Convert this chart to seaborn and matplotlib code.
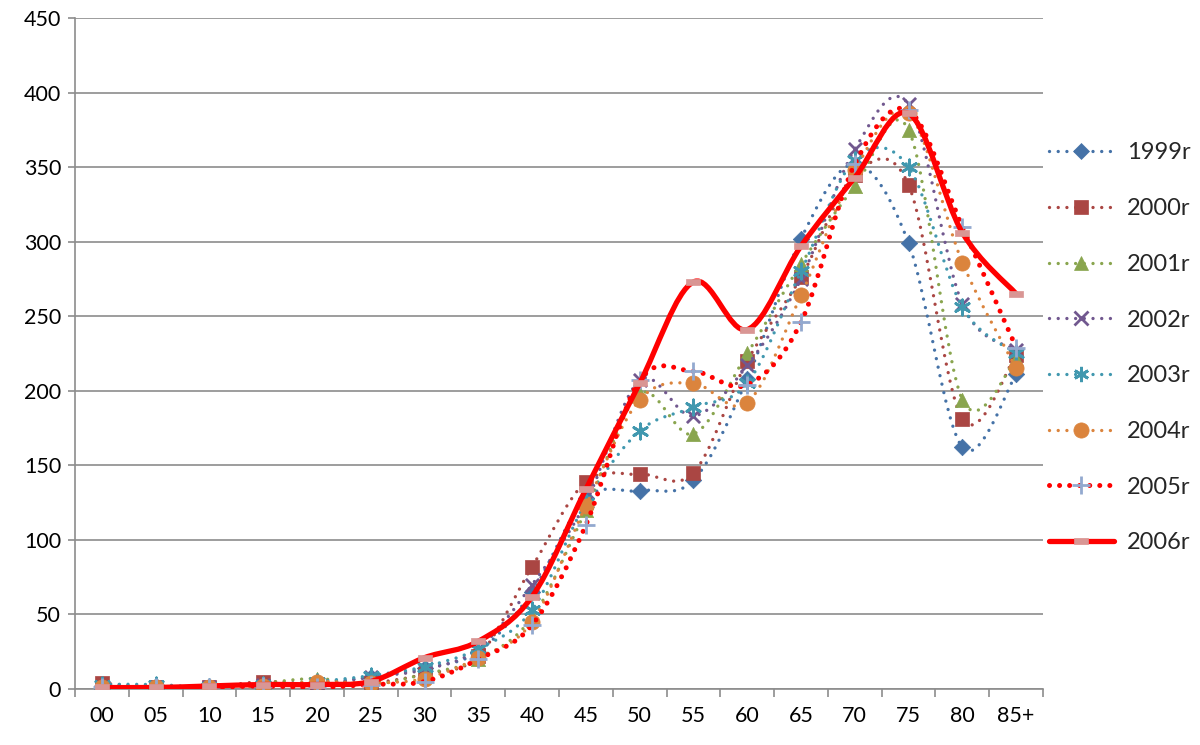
import numpy as np
import pandas as pd
import matplotlib
matplotlib.use("Agg")
import matplotlib.pyplot as plt
from matplotlib.path import Path
from matplotlib.patches import PathPatch
from matplotlib.lines import Line2D
import seaborn as sns

sns.set_theme(style="white")
plt.rcParams['font.family'] = ['Lato', 'DejaVu Sans']

# age groups on the x axis
ages = ["00", "05", "10", "15", "20", "25", "30", "35", "40",
        "45", "50", "55", "60", "65", "70", "75", "80", "85+"]

y1999 = [2, 2, 1, 3, 4, 8, 14, 25, 65, 128, 133, 140, 208, 302, 352, 299, 162, 211]
y2000 = [4, 1, 1, 5, 3, 4, 10, 22, 82, 139, 144, 145, 220, 276, 345, 338, 181, 224]
y2001 = [2, 2, 1, 4, 7, 3, 10, 20, 48, 120, 198, 171, 225, 285, 337, 375, 194, 221]
y2002 = [1, 1, 1, 3, 3, 8, 13, 27, 70, 125, 207, 183, 217, 275, 362, 392, 258, 227]
y2003 = [3, 3, 1, 3, 5, 9, 15, 27, 53, 125, 173, 189, 205, 280, 355, 350, 256, 225]
y2004 = [1, 1, 1, 2, 5, 4, 7, 21, 45, 123, 194, 205, 192, 264, 348, 386, 286, 215]
y2005 = [1, 1, 1, 2, 1, 3, 5, 20, 43, 110, 207, 213, 204, 246, 352, 388, 310, 229]
y2006 = [1, 1, 2, 3, 3, 5, 21, 32, 62, 134, 205, 273, 241, 297, 343, 386, 306, 265]

series = ["1999r", "2000r", "2001r", "2002r", "2003r", "2004r", "2005r", "2006r"]
values = [y1999, y2000, y2001, y2002, y2003, y2004, y2005, y2006]

df = pd.DataFrame({
    "age": ages * len(series),
    "pos": list(range(len(ages))) * len(series),
    "year": np.repeat(series, len(ages)),
    "value": np.concatenate(values),
})

# style per series: line colour, marker, marker colour, marker size, line width, dash
dot = (0, (0.01, 2.6))
styles = {
    "1999r": dict(c="#4572A7", m="D", mc="#4572A7", s=70, lw=2.4, ls=dot),
    "2000r": dict(c="#AA4643", m="s", mc="#AA4643", s=95, lw=2.4, ls=dot),
    "2001r": dict(c="#89A54E", m="^", mc="#89A54E", s=105, lw=2.4, ls=dot),
    "2002r": dict(c="#71588F", m="x", mc="#71588F", s=90, lw=2.4, ls=dot),
    "2003r": dict(c="#4198AF", m=(6, 2, 0), mc="#4198AF", s=120, lw=2.4, ls=dot),
    "2004r": dict(c="#DB843D", m="o", mc="#DB843D", s=120, lw=2.4, ls=dot),
    "2005r": dict(c="#FF0000", m="+", mc="#93A9CF", s=160, lw=3.6, ls=(0, (0.01, 2.0))),
    "2006r": dict(c="#FF0000", m=[(-1, -0.5), (1, -0.5), (1, 0.5), (-1, 0.5), (-1, -0.5)],
                  mc="#D99694", s=95, lw=3.8, ls="-"),
}


def smooth_path(xs, ys, t=1 / 6):
    # cubic bezier through the points, like a spreadsheet "smoothed line"
    pts = np.column_stack([xs, ys]).astype(float)
    n = len(pts)
    verts = [pts[0]]
    codes = [Path.MOVETO]
    for i in range(n - 1):
        p0 = pts[max(i - 1, 0)]
        p1 = pts[i]
        p2 = pts[i + 1]
        p3 = pts[min(i + 2, n - 1)]
        verts += [p1 + (p2 - p0) * t, p2 - (p3 - p1) * t, p2]
        codes += [Path.CURVE4] * 3
    return Path(verts, codes)


fig = plt.figure(figsize=(12, 7.45), dpi=100)
ax = fig.add_axes([0.0625, 0.0752, 0.8067, 0.9007])

handles = []
for k, name in enumerate(series):
    st = styles[name]
    sub = df[df["year"] == name]
    patch = PathPatch(smooth_path(sub["pos"], sub["value"]), fill=False,
                      edgecolor=st["c"], linewidth=st["lw"], linestyle=st["ls"],
                      capstyle="round", joinstyle="round", zorder=3 + 2 * k)
    ax.add_patch(patch)
    line_marker = st["m"] in ("x", "+", (6, 2, 0))
    sns.scatterplot(data=sub, x="pos", y="value", ax=ax, marker=st["m"], s=st["s"],
                    color=st["mc"], edgecolor=st["mc"],
                    linewidth=2 if line_marker else 0.5, zorder=4 + 2 * k, legend=False)
    handles.append(Line2D([0], [0], color=st["c"], lw=st["lw"], linestyle=st["ls"],
                          dash_capstyle="round", solid_capstyle="round",
                          marker=st["m"], markersize=np.sqrt(st["s"]),
                          markerfacecolor=st["mc"], markeredgecolor=st["mc"],
                          markeredgewidth=2 if line_marker else 0.5, label=name))

ax.set_xlim(-0.5, len(ages) - 0.5)
ax.set_ylim(0, 450)
ax.set_yticks(range(0, 451, 50))
ax.set_xticks(range(len(ages)))
ax.set_xticklabels(ages)
ax.set_xticks(np.arange(-0.5, len(ages), 1), minor=True)
ax.yaxis.grid(True, color="#8C8C8C", linewidth=1.2)
ax.set_axisbelow(True)
ax.set_xlabel("")
ax.set_ylabel("")

for side in ("top", "right"):
    ax.spines[side].set_visible(False)
for side in ("left", "bottom"):
    ax.spines[side].set_color("#8C8C8C")
    ax.spines[side].set_linewidth(1.2)

ax.tick_params(axis="x", which="major", length=0, pad=12, labelsize=15.5, colors="black")
ax.tick_params(axis="x", which="minor", length=6, width=1.2, color="#8C8C8C", bottom=True)
ax.tick_params(axis="y", length=5, width=1.2, color="#8C8C8C", pad=5, labelsize=15.5,
               left=True, labelcolor="black")

fig.legend(handles=handles, loc="center left", bbox_to_anchor=(0.866, 0.533),
           frameon=False, fontsize=17, handlelength=2.75, handletextpad=0.55,
           labelspacing=1.47, borderaxespad=0, numpoints=1)

fig.savefig("out.png", dpi=100)
